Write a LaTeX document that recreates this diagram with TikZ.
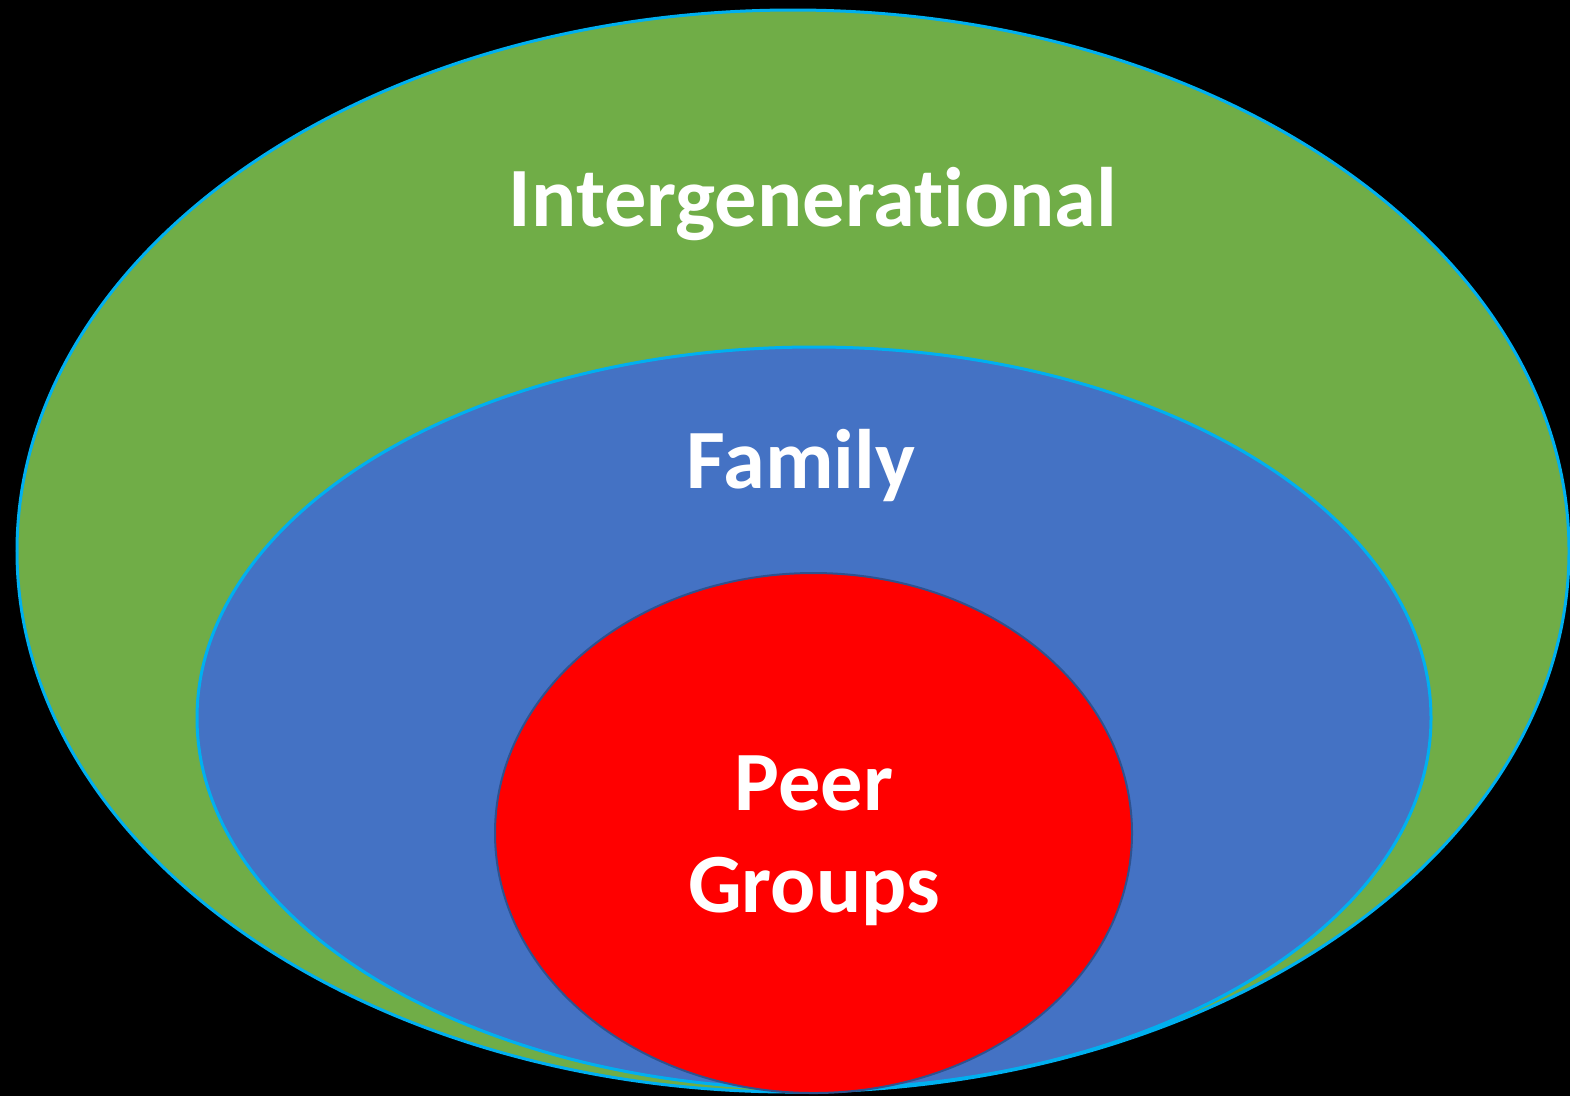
\documentclass[tikz,border=0pt]{standalone}
\usepackage{fontspec}
\setmainfont{Carlito}[Ligatures=NoCommon]
\usetikzlibrary{arrows}

\definecolor{ringgreen}{HTML}{70AD47}
\definecolor{ringblue}{HTML}{4472C4}
\definecolor{ringred}{HTML}{FF0000}
\definecolor{ringline}{HTML}{00B0F0}
\definecolor{redline}{HTML}{2F528F}

\tikzset{
  label text/.style={text=white, font=\fontsize{24}{29}\selectfont\bfseries, align=center, inner sep=0pt}
}

\begin{document}
\begin{tikzpicture}[x=0.01cm, y=-0.01cm]
            % Black background, fixes the page size
            \fill[black] (0,0) rectangle (1570,1096);
            \useasboundingbox (0,0) rectangle (1570,1096);

            % Draw the outer ellipse
            \begin{scope}
            \clip (0,0) rectangle (1570,1096);
            \draw[line width=0.03cm, ringline, fill=ringgreen] (793,551) ellipse (776 and 541);
            \end{scope}

            % Draw the middle ellipse
            \draw[line width=0.03cm, ringline, fill=ringblue] (814,718) ellipse (617 and 371);

            % Draw the inner ellipse
            \draw[line width=0.02cm, redline, fill=ringred] (813.5,833) ellipse (318.5 and 260);

            % Labels
            \node[label text, anchor=base] (outer) at (813,226) {Intergenerational};
            \node[label text, anchor=base] (middle) at (801,488) {Family};
            \node[label text, anchor=base] (peer) at (814,810) {Peer};
            \node[label text, anchor=base] (groups) at (814,912) {Groups};
\end{tikzpicture}
\end{document}
